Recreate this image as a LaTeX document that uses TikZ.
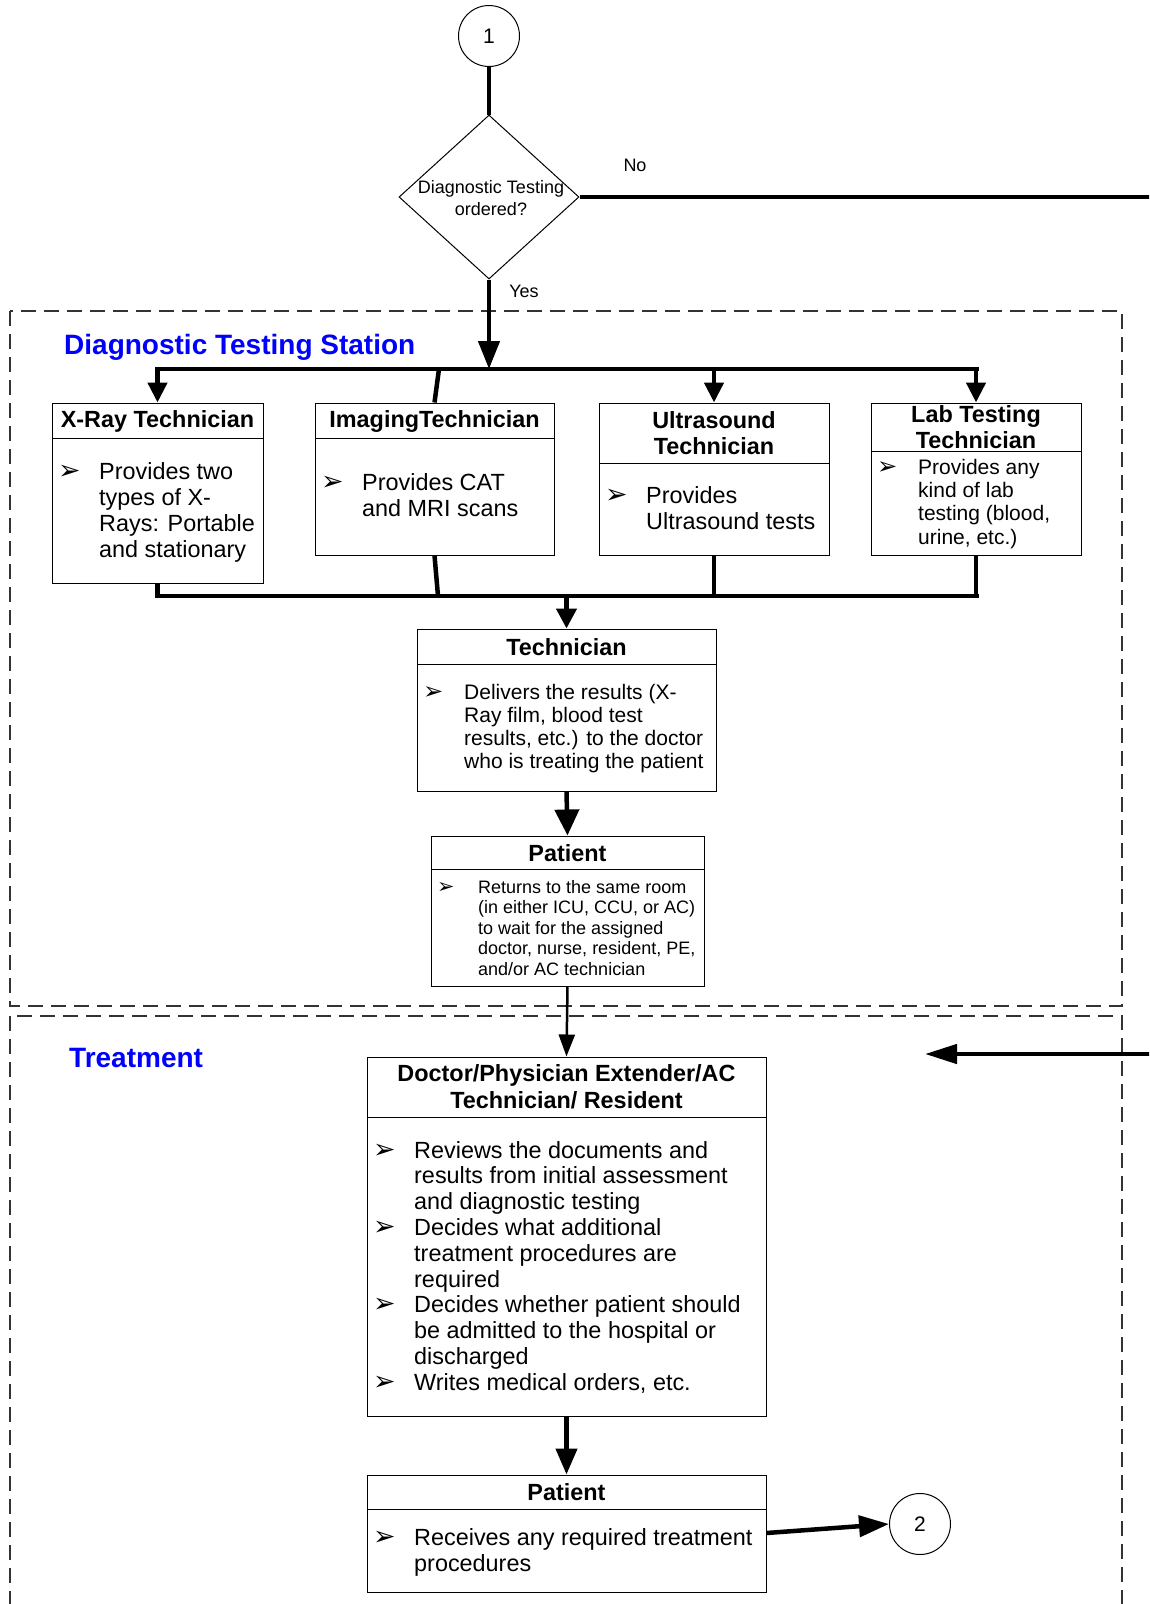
\documentclass[tikz,border=0pt]{standalone}
\usepackage{fontspec}
\setmainfont{Liberation Sans}
\newfontfamily\bulfont{DejaVu Sans}[Scale=1.15]
\usetikzlibrary{arrows.meta,shapes.geometric}

\definecolor{titleblue}{RGB}{0,0,255}

% fonts
\newcommand\hdfont{\fontsize{23.4}{26.6}\selectfont\bfseries}
\newcommand\bdfont{\fontsize{23.4}{26}\selectfont}
\newcommand\smfont{\fontsize{21}{23.4}\selectfont}
\newcommand\tnfont{\fontsize{18}{20.5}\selectfont}
% bullet and hanging indent
\newcommand\bi{\makebox[41pt][l]{\bulfont ➢}}
\newcommand\ind{\hspace*{41pt}}
% box from left/top/right/bottom
\newcommand\mkbox[5]{\node[box, minimum width={(#4-#2)*1pt}, minimum height={(#5-#3)*1pt}] (#1) at ({(#2+#4)/2},{(#3+#5)/2}) {};}

\tikzset{
  box/.style={draw, line width=1pt, rectangle, inner sep=0pt},
  divider/.style={line width=1pt},
  hd/.style={font=\hdfont, align=center, inner sep=0pt},
  bd/.style={font=\bdfont, inner sep=0pt, anchor=base west},
  conn/.style={line width=4.5pt},
  region/.style={line width=1.3pt, black!80, dash pattern=on 15pt off 8pt},
  arr/.style={conn, -{Triangle[length=22pt,width=20pt]}},
  conncircle/.style={draw, circle, line width=1pt, minimum size=61pt, inner sep=0pt, font=\fontsize{21}{24}\selectfont},
  lbl/.style={font=\fontsize{18}{21}\selectfont, inner sep=0pt},
  title/.style={font=\fontsize{28}{32}\selectfont\bfseries, text=titleblue, inner sep=0pt, anchor=base west}
}

\begin{document}
\begin{tikzpicture}[x=1pt,y=-1pt]
\clip (0,0) rectangle (1149,1604);
\fill[white] (0,0) rectangle (1149,1604);

% regions
\draw[region] (10,311) rectangle (1122,1006);
\draw[region] (10,1016) rectangle (1122,1640);
\node[title] (st1) at (64,354) {Diagnostic Testing Station};
\node[title] (st2) at (69,1067) {Treatment};

% start connector and decision
\node[conncircle] (c1) at (489,36) {1};
\node[draw, diamond, line width=1pt, minimum width=180pt, minimum height=164pt, inner sep=0pt] (dec) at (489,197) {};
\node[lbl, align=center, font=\fontsize{18}{21.5}\selectfont] (dectext) at (491,198) {Diagnostic Testing\\ordered?};
\draw[conn] (c1.south) -- (dec.north);

\node[lbl] (no) at (635,165) {No};
\node[lbl] (yes) at (524,291) {Yes};
\coordinate (noend) at (1160,197);
\draw[conn] (dec.east) -- (noend);

% distribution bus
\coordinate (busL) at (155,369);
\coordinate (busR) at (979,369);
\coordinate (busY) at (489,369);
\coordinate (busI) at (439,369);
\draw[conn] (busL) -- (busR);
\draw[conn, -{Triangle[length=28pt,width=21pt]}] (dec.south) -- (busY);

% technician boxes
\mkbox{xray}{52}{403}{263}{583}
\mkbox{img}{315}{403}{554}{555}
\mkbox{us}{599}{403}{829}{555}
\mkbox{lab}{871}{403}{1081}{555}

\draw[divider] (52,438) -- (263,438);
\draw[divider] (315,438) -- (554,438);
\draw[divider] (599,463) -- (829,463);
\draw[divider] (871,451) -- (1081,451);

\node[hd] (xrayh) at (157.5,421) {X-Ray Technician};
\node[hd] (imgh) at (434.5,421) {ImagingTechnician};
\node[hd] (ush) at (714,433) {Ultrasound\\Technician};
\node[hd] (labh) at (976,427) {Lab Testing\\Technician};

\node[bd] (xrayb) at (58,479) {\begin{tabular}[t]{@{}l@{}}\bi Provides two\\ \ind types of X-\\ \ind Rays: Portable\\ \ind and stationary\end{tabular}};
\node[bd] (imgb) at (321,490) {\begin{tabular}[t]{@{}l@{}}\bi Provides CAT\\ \ind and MRI scans\end{tabular}};
\node[bd, font=\fontsize{23.4}{26.8}\selectfont] (usb) at (605,503) {\begin{tabular}[t]{@{}l@{}}\bi Provides\\ \ind Ultrasound tests\end{tabular}};
\node[bd, font=\smfont] (labb) at (877,474) {\begin{tabular}[t]{@{}l@{}}\bi Provides any\\ \ind kind of lab\\ \ind testing (blood,\\ \ind urine, etc.)\end{tabular}};

\draw[conn, -{Triangle[length=20pt,width=19pt]}] (busL -| xray.north) -- (xray.north);
\draw[conn] (busI) -- (img.north);
\draw[conn, -{Triangle[length=20pt,width=19pt]}] (busR -| us.north) -- (us.north);
\draw[conn, -{Triangle[length=20pt,width=19pt]}] (busR -| lab.north) -- (lab.north);

% collecting bus
\coordinate (bus2L) at (155,596);
\coordinate (bus2R) at (979,596);
\coordinate (bus2I) at (438,596);
\draw[conn] (bus2L) -- (bus2R);
\draw[conn] (xray.south) -- (bus2L -| xray.south);
\draw[conn] (img.south) -- (bus2I);
\draw[conn] (us.south) -- (bus2L -| us.south);
\draw[conn] (lab.south) -- (bus2L -| lab.south);

% technician delivering results
\mkbox{tech}{417}{629}{716}{791}
\draw[divider] (417,664) -- (716,664);
\node[hd] (techh) at (566.5,647) {Technician};
\node[bd, font=\fontsize{21}{23}\selectfont] (techb) at (423,699) {\begin{tabular}[t]{@{}l@{}}\bi Delivers the results (X-\\ \ind Ray film, blood test\\ \ind results, etc.) to the doctor\\ \ind who is treating the patient\end{tabular}};
\draw[conn, -{Triangle[length=20pt,width=20pt]}] (bus2L -| tech.north) -- (tech.north);

% patient returning
\mkbox{pat}{431}{836}{704}{986}
\draw[divider] (431,869) -- (704,869);
\node[hd] (path) at (567.5,853) {Patient};
\node[bd, font=\tnfont] (patb) at (437,893) {\begin{tabular}[t]{@{}l@{}}\bi Returns to the same room\\ \ind (in either ICU, CCU, or AC)\\ \ind to wait for the assigned\\ \ind doctor, nurse, resident, PE,\\ \ind and/or AC technician\end{tabular}};
\draw[conn, -{Triangle[length=26pt,width=24pt]}] (tech.south) -- (pat.north);

% treatment
\mkbox{doc}{367}{1057}{766}{1416}
\draw[divider] (367,1117) -- (766,1117);
\node[hd] (doch) at (566.5,1087) {Doctor/Physician Extender/AC\\Technician/ Resident};
\node[bd, font=\fontsize{23.4}{25.8}\selectfont] (docb) at (373,1158) {\begin{tabular}[t]{@{}l@{}}\bi Reviews the documents and\\ \ind results from initial assessment\\ \ind and diagnostic testing\\ \bi Decides what additional\\ \ind treatment procedures are\\ \ind required\\ \bi Decides whether patient should\\ \ind be admitted to the hospital or\\ \ind discharged\\ \bi Writes medical orders, etc.\end{tabular}};
\draw[line width=2.5pt, -{Triangle[length=22pt,width=16pt]}] (pat.south) -- (doc.north);

\coordinate (retstart) at (1160,1054);
\coordinate (treat) at (925,1054);
\draw[conn, -{Triangle[length=32pt,width=19pt]}] (retstart) -- (treat);

\mkbox{pat2}{367}{1475}{766}{1592}
\draw[divider] (367,1509) -- (766,1509);
\node[hd] (pat2h) at (566.5,1492) {Patient};
\node[bd] (pat2b) at (373,1545) {\begin{tabular}[t]{@{}l@{}}\bi Receives any required treatment\\ \ind procedures\end{tabular}};
\draw[conn, -{Triangle[length=26pt,width=21pt]}] (doc.south) -- (pat2.north);

\node[conncircle] (c2) at (920,1524) {2};
\draw[conn, -{Triangle[length=30pt,width=21pt]}] (pat2.east |- 0,1533) -- (c2.west);
\end{tikzpicture}
\end{document}
